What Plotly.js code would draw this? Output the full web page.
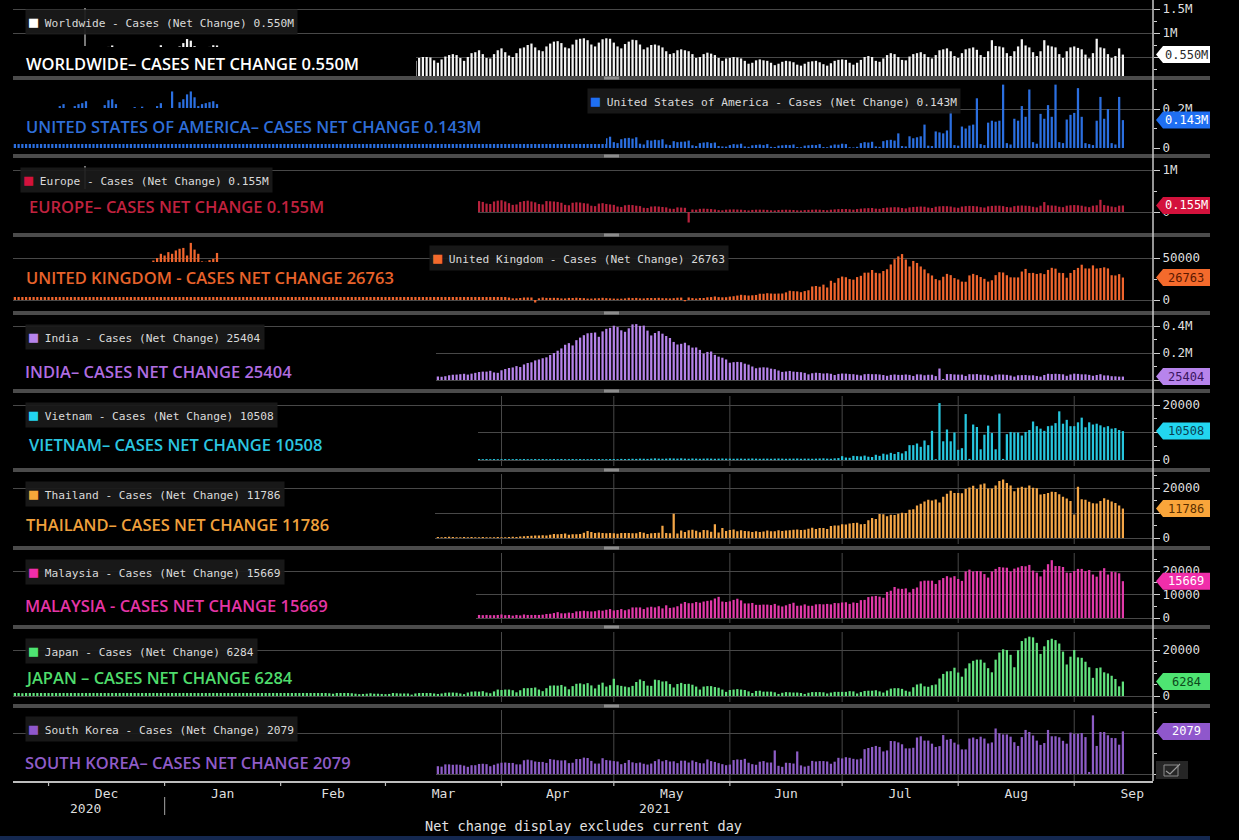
<!DOCTYPE html>
<html>
<head>
<meta charset="utf-8">
<script src="https://cdn.plot.ly/plotly-3.0.1.min.js"></script>
<style>
  html, body { margin: 0; padding: 0; background: #000; }
  #chart { width: 1239px; height: 840px; }
</style>
</head>
<body>
<div id="chart"></div>
<script>
// Daily new COVID-19 cases (net change), in thousands of cases.

const worldwideStart = '2020-11-21';
const worldwide = [
  580,500,480,560,620,590,650,560,480,500,
  620,640,680,690,640,560,530,620,680,700,705,640,560,590,660,700,710,740,640,560,600,660,690,700,520,440,480,600,680,700,745,
  600,620,560,640,720,790,875,840,725,600,620,690,710,745,740,650,560,500,560,620,650,640,560,480,490,560,600,580,560,500,420,
  440,460,470,450,420,360,330,380,420,430,410,380,320,300,330,380,400,390,370,320,300,340,390,420,410,400,360,330,
  340,390,430,450,440,400,370,360,420,
  480,500,500,490,430,380,450,510,
  540,560,540,480,420,500,580,600,
  640,560,480,470,560,640,680,
  600,530,500,580,680,700,750,780,700,
  640,620,720,780,820,830,790,700,680,760,
  860,880,890,850,760,720,800,870,890,880,
  800,720,680,770,820,860,850,760,660,700,
  750,760,740,700,620,560,580,640,660,640,
  620,560,480,500,560,590,570,540,480,420,470,
  480,500,490,470,420,360,380,430,450,430,
  420,380,330,360,400,420,410,390,340,320,
  360,400,410,420,390,350,320,370,420,440,
  450,440,380,340,380,440,500,520,500,420,
  400,470,540,580,560,500,440,430,510,560,
  580,600,560,500,470,540,640,660,680,620,520,
  480,580,660,680,700,650,540,500,620,850,
  730,720,700,580,520,620,720,870,740,700,
  600,520,620,850,740,720,700,560,480,620,700,
  720,690,660,550,470,580,880,700,680,560,480,520,680,550
];

const usaStart = '2020-11-21';
const usa = [
  180,140,150,175,185,110,205,150,140,160,
  180,195,200,215,225,180,190,215,225,230,240,190,185,195,200,220,245,250,225,180,190,195,200,210,100,212,150,170,195,215,230,
  160,200,290,180,235,250,275,290,260,215,225,230,235,240,225,205,170,145,170,180,190,185,170,130,150,145,150,160,165,140,110,
  120,115,120,125,130,95,85,100,95,100,100,95,80,60,55,60,65,70,75,60,55,65,70,75,80,75,60,50,
  55,60,65,65,60,50,40,50,55,60,65,60,50,45,50,55,60,65,60,45,40,55,60,65,70,65,45,35,65,70,70,
  75,65,50,40,65,70,75,80,80,60,45,70,75,80,75,70,45,40,70,65,60,60,55,40,30,55,60,55,50,
  58,
  30,25,45,50,52,48,55,22,18,40,38,42,40,45,18,15,35,30,32,33,38,14,10,25,28,30,25,28,10,8,7,
  15,20,18,22,8,6,14,16,18,15,20,6,5,12,14,16,15,18,5,4,12,14,16,15,20,5,4,13,18,17,
  22,20,4,3,6,25,30,28,32,8,6,35,40,42,38,75,10,8,60,50,55,60,120,12,10,85,80,75,90,190,15,
  12,110,100,115,120,255,20,15,130,140,135,140,325,25,18,150,140,215,160,300,30,22,175,150,220,160,325,30,25,146,170,
  180,307,160,25,20,15,140,262,150,200,25,18,262,143
];

const europeStart = '2021-03-26';
const europe = [
  260,240,200,190,250,270,
  280,250,210,170,180,240,260,270,250,230,190,180,260,255,250,240,220,170,160,220,230,225,210,200,150,140,200,210,190,180,
  170,130,120,160,170,165,150,140,100,95,130,135,130,120,110,80,75,110,105,100,-250,60,55,75,80,75,70,60,45,40,55,
  60,62,58,55,45,38,50,55,56,54,50,40,36,48,52,54,52,48,40,36,45,50,55,58,55,48,42,55,62,68,
  70,72,65,55,70,80,88,92,95,80,75,95,105,110,115,112,95,85,110,120,125,130,125,105,95,125,135,140,138,130,110,
  100,130,140,145,142,135,115,105,135,145,150,150,140,120,110,140,150,155,150,145,125,110,150,236,160,155,150,125,115,150,160,
  165,160,150,130,115,150,160,290,165,150,130,115,150,155
];

const ukStart = '2020-11-21';
const uk = [
  19,18,15,11,18,17,16,15,12,12,
  16,14,16,17,15,13,14,16,16,20,21,21,18,20,18,25,35,28,27,35,33,36,39,32,30,41,30,41,47,50,55,
  53,57,55,59,61,62,53,68,60,55,46,45.5,47.5,49,56,41,38,37,33,38,37,40,33,30,22,20,25,28,29,23,21,
  19,16,19,21,19,18,15,14,12,13,13,15,13,10,9,10,12,12,12,10,9,10,8,9,9,8,7,6,
  5,5,6,7,6,5,5,5,6,6,6,5,6,4,5,5,6,4,5,5,6,5,5,5,6,4,4,4,4,4,4,
  4,4,3,2,2,2.4,3,
  3,3,-3,2,3,2.5,2.5,2.6,2.5,1.9,1.9,2.5,2.4,2.7,2.4,2.2,1.7,1.7,2,2.1,2.6,2.2,2,
  1.7,1.6,1.6,1.9,2.6,2.3,2.5,2,1.9,2.4,2.4,2.3,2.6,2.2,2.1,1.9,2.2,2.7,2.9,-1.5,3,2.3,1.8,2.4,2.4,3.2,3.5,4.2,3.4,3.2,3.3,
  4,4.5,5.3,6.2,5.7,5.3,5.6,6,7.5,7.4,8.1,7.7,7.5,7.7,7.7,9.1,11,10.5,10.3,9.3,10.6,11.6,16.1,16.7,15.8,18.3,14.9,22.9,20.5,26,
  27.9,27.1,24.9,24.2,27.3,28.8,32.5,32.6,35.7,32.4,31.8,34.5,36.6,42.3,48.5,51.9,54.7,48.2,39.9,46.5,44.1,39.9,36.4,31.8,29.2,24.9,23.5,27.7,31.1,29.6,26.1,
  24.4,21.9,21.7,29.3,31.1,29.6,27.4,25.2,21.9,23.5,29.6,33.1,32.7,29.5,27,26.9,26.9,33.9,37,32.1,32.3,31,31.9,30.8,35.8,38.3,37.3,32.4,32.1,26.5,32.2,
  35.7,38.2,42,37.6,37.5,41.2,37.5,38,38.9,37.6,29.5,29.2,30.8,26.763
];

const indiaStart = '2021-03-15';
const india = [
  26,24,28,35,39,40,43,46,40,47,53,59,62,62,68,56,53,
  72,81,89,93,103,96,115,126,131,145,152,161,168,185,200,217,234,261,273,256,295,314,332,346,349,352,320,360,379,386,
  402,392,368,357,383,412,414,401,403,366,330,348,362,343,326,311,282,263,268,276,257,240,241,223,196,208,211,186,173,165,152,
  128,132,134,132,121,114,100,87,92,94,92,84,80,70,60,63,67,62,60,58,53,42,50,54,52,48,50,46,37,45,
  48,47,44,43,39,34,43,45,43,43,41,37,31,38,41,38,38,41,38,30,42,41,35,39,39,29,85,8,44,44,41,
  40,40,30,43,42,44,39,39,35,28,39,41,40,38,33,25,35,36,37,34,35,30,25,37,46,44,46,44,42,31,41,
  47,45,42,42,38,31,37,43,34,34,28,27,25,25.404
];

const vietnamStart = '2021-03-26';
const vietnam = [
  0.35,0.3,0.35,0.3,0.35,0.3,
  0.3,0.35,0.3,0.3,0.35,0.3,0.35,0.3,0.3,0.35,0.3,0.35,0.3,0.3,0.35,0.3,0.35,0.3,0.3,0.35,0.3,0.35,0.3,0.3,0.35,0.3,0.35,0.3,0.3,0.35,
  0.35,0.3,0.4,0.35,0.4,0.45,0.4,0.5,0.45,0.4,0.5,0.6,0.5,0.45,0.5,0.6,0.55,0.5,0.6,0.5,0.45,0.55,0.5,0.45,0.5,0.55,0.5,0.45,0.5,0.55,0.5,
  0.5,0.45,0.5,0.5,0.45,0.5,0.55,0.5,0.45,0.5,0.5,0.45,0.5,0.55,0.5,0.45,0.5,0.5,0.55,0.45,0.5,0.5,0.45,0.5,0.55,0.6,0.5,0.45,0.6,0.7,
  1.4,0.9,0.8,1.5,1.4,1.3,1.6,1.2,1.1,1.9,1.5,2.3,2.0,2.6,2.2,2.9,2.4,3.2,5.4,
  5.4,6.0,4.8,7.1,5.4,10.6,0.3,20.7,6.8,11.1,6.8,10.0,3.7,4.3,16.7,0.4,12.9,12.0,3.9,9.2,12.5,9.8,3.9,16.9,0.4,9.4,10.2,10.0,10.0,8.9,
  10.2,10.9,14.0,12.3,11.4,10.6,12.3,12.5,13.4,17.7,13.2,14.6,12.3,12.3,13.7,15.4,11.9,13.7,12.9,13.2,12.6,11.9,12.3,11.4,11.6,10.9,10.508
];

const thailandStart = '2021-03-15';
const thailand = [
  0.4,0.3,0.4,0.5,0.4,0.3,0.3,0.4,0.3,0.4,0.3,0.3,0.4,0.3,0.3,0.3,0.4,
  0.3,0.3,0.4,0.5,0.4,0.6,0.7,0.8,0.9,1.0,1.0,1.1,1.0,1.3,1.6,1.5,1.6,1.8,1.3,1.5,1.5,1.6,2.1,2.8,2.4,2.0,2.2,2.0,1.9,2.0,
  1.9,1.7,2.0,2.0,2.0,1.9,1.9,2.4,2.1,1.6,1.9,2.0,2.1,4.9,2.0,1.9,9.7,1.8,3.0,2.4,3.1,3.3,2.9,2.3,3.2,3.1,2.5,5.5,2.2,4.0,2.8,
  3.2,3.4,2.7,3.1,2.8,2.7,2.4,2.7,2.4,2.6,3.0,2.7,2.7,3.1,2.8,3.0,3.1,3.3,3.4,3.2,3.3,3.7,4.1,3.6,4.0,4.0,3.6,4.8,5.0,5.0,
  5.5,5.4,5.8,6.0,6.1,5.5,5.6,7.1,8.0,7.6,9.6,9.5,8.7,9.3,9.2,9.7,10.1,10.0,11.3,11.5,13.0,13.7,14.6,15.3,15.0,15.4,14.2,16.5,17.7,18.9,18.0,
  18.0,17.9,19.6,20.2,20.9,19.6,21.4,21.8,19.8,19.8,21.0,22.8,23.4,22.0,21.0,18.7,20.1,20.5,20.1,21.0,20.1,19.9,17.4,17.6,18.0,18.5,18.4,17.5,16.5,15.8,14.8,
  9.4,20.5,15.5,15.3,14.5,13.9,13.8,14.8,15.9,15.3,14.6,14.0,13.0,11.786
];

const malaysiaStart = '2021-03-26';
const malaysia = [
  1.3,1.2,1.3,1.2,1.2,1.3,
  1.5,1.2,1.3,1.0,1.3,1.1,1.5,1.3,1.3,1.3,1.3,1.4,1.7,1.8,2.1,2.5,2.0,2.0,2.3,2.1,2.8,2.9,3.1,2.9,2.8,2.9,3.3,3.1,3.5,3.8,
  3.2,3.4,3.8,3.3,3.7,4.5,4.5,4.5,3.8,4.5,4.8,4.5,5.0,4.1,5.4,4.3,4.5,5.0,6.1,6.8,6.3,6.3,6.8,6.5,7.0,7.3,7.5,8.3,9.0,7.0,6.8,
  7.1,7.7,8.2,7.5,6.2,6.2,6.4,5.6,5.6,5.7,5.7,5.5,6.0,5.3,4.9,5.4,6.0,6.5,5.2,5.3,5.8,5.2,5.2,5.8,5.9,5.8,6.0,5.8,6.4,6.3,
  6.6,6.7,6.0,6.6,6.4,7.6,7.7,8.9,9.2,9.4,9.1,8.6,11.1,11.6,13.2,12.5,12.4,12.6,10.9,12.4,13.0,15.6,15.9,15.9,15.9,14.5,16.1,17.0,17.8,17.2,17.8,
  16.6,15.8,19.8,20.6,19.8,20.0,19.9,18.7,17.2,19.8,20.9,21.7,21.5,21.4,19.8,21.0,21.5,22.1,22.0,22.6,20.2,19.3,17.7,20.6,22.9,24.6,22.1,22.1,21.7,19.3,19.2,
  20.0,20.9,20.9,20.0,20.4,18.5,17.6,20.1,21.2,18.5,19.7,19.5,19.0,15.669
];

const japanStart = '2020-11-21';
const japan = [
  2.4,2.2,1.5,1.2,1.9,2.5,2.5,2.7,2.1,1.4,
  2.0,2.4,2.5,2.4,2.5,2.0,1.7,2.1,2.8,2.8,2.8,3.0,2.0,1.7,2.4,3.2,3.2,2.8,2.9,2.4,1.8,2.9,3.3,3.7,3.8,3.9,2.9,2.4,3.6,3.9,4.5,
  3.2,3.0,3.1,3.3,4.9,6.0,7.6,7.9,7.8,6.1,4.9,4.5,5.9,6.6,7.1,6.2,5.8,4.9,5.3,5.5,5.4,5.0,4.7,3.9,2.8,3.9,3.9,3.5,3.5,3.3,2.7,
  2.1,1.8,2.6,2.5,2.4,2.3,1.9,1.6,1.7,1.9,1.6,1.4,1.4,1.2,1.0,1.5,1.5,1.4,1.3,1.2,1.0,0.8,0.9,1.0,1.2,1.0,1.0,0.9,
  0.8,0.9,1.3,1.2,1.1,1.1,1.1,0.6,1.1,1.3,1.3,1.3,1.3,1.1,
  0.9,1.1,1.4,1.5,1.5,1.4,1.1,0.8,1.5,1.9,2.0,1.9,2.1,1.5,1.2,2.0,2.8,
  2.6,2.8,2.8,2.5,1.6,2.5,3.4,3.4,3.5,3.7,2.8,2.1,3.4,4.5,4.6,4.5,4.8,4.1,2.9,4.3,5.3,5.5,5.1,5.6,4.6,3.3,4.9,5.8,4.1,4.7,
  7.5,4.7,4.4,4.1,3.8,4.4,6.1,7.2,6.5,4.5,4.4,7.1,6.9,6.3,6.4,5.2,3.7,5.2,5.7,5.2,5.3,4.9,4.1,2.8,4.1,4.3,4.3,3.9,3.6,2.8,1.8,
  2.6,2.8,3.0,2.8,2.6,2.0,1.3,2.2,2.3,1.9,1.9,1.9,1.6,0.9,1.4,1.7,1.6,1.5,1.5,1.3,0.9,1.4,1.7,1.7,1.7,1.6,1.1,1.5,1.8,1.8,
  1.8,1.8,2.1,2.0,1.1,1.7,2.2,2.3,2.3,2.5,2.0,1.5,2.4,3.2,3.4,3.4,3.1,2.3,1.9,3.8,5.0,5.4,4.2,4.0,4.7,5.0,7.6,9.6,10.7,10.8,12.3,
  10.2,8.4,12.0,14.2,15.3,15.8,15.8,14.5,12.1,10.3,15.8,18.9,20.3,20.0,17.9,12.5,19.9,23.9,25.1,25.8,25.5,23.1,18.3,21.6,24.3,24.9,24.3,22.8,19.3,13.7,17.1,
  20.0,16.8,16.6,14.9,12.5,7.9,12.1,12.4,10.3,9.8,8.8,7.4,4.2,6.284
];

const southKoreaStart = '2021-03-15';
const southKorea = [
  0.38,0.36,0.47,0.47,0.45,0.46,0.45,0.41,0.35,0.43,0.43,0.49,0.50,0.48,0.38,0.45,0.51,
  0.55,0.56,0.54,0.54,0.47,0.47,0.67,0.70,0.67,0.61,0.59,0.59,0.54,0.73,0.70,0.67,0.66,0.67,0.53,0.55,0.73,0.73,0.80,0.78,0.64,0.51,0.51,0.77,0.68,0.66,
  0.63,0.61,0.48,0.54,0.68,0.57,0.53,0.56,0.50,0.46,0.51,0.63,0.72,0.62,0.68,0.61,0.62,0.53,0.65,0.65,0.56,0.66,0.59,0.53,0.52,0.71,0.63,0.59,0.53,0.48,0.43,
  0.46,0.68,0.71,0.69,0.74,0.55,0.48,0.45,0.60,0.63,0.56,0.56,1.15,0.40,0.35,0.55,0.54,0.51,1.10,0.42,0.36,0.40,0.64,0.61,0.63,0.63,0.61,0.50,0.60,0.79,
  0.76,0.82,0.79,0.74,0.71,0.75,1.21,1.27,1.32,1.37,1.32,1.10,1.15,1.61,1.60,1.54,1.45,1.25,1.25,1.28,1.78,1.84,1.63,1.63,1.48,1.32,1.36,1.90,1.67,1.71,1.53,
  1.44,1.20,1.20,1.73,1.78,1.70,1.82,1.73,1.49,1.54,2.22,1.99,1.93,1.93,1.82,1.55,1.37,1.80,2.15,2.05,1.88,1.63,1.42,1.51,2.15,1.84,1.84,1.79,1.62,1.48,2.02,
  1.96,1.96,2.00,1.80,0.10,2.86,1.37,2.05,2.05,1.89,1.76,1.75,1.43,2.079
];

// Value-axis ticks per panel (thousands) and their labels;
// an empty label keeps the gridline where the last-value tag sits on the axis.
const worldwideTicks = [500, 1000, 1500];   const worldwideTickText = ['', '1M', '1.5M'];
const usaTicks = [0, 200];                   const usaTickText = ['0', '0.2M'];
const europeTicks = [0, 1000];               const europeTickText = ['0', '1M'];
const ukTicks = [0, 50];                     const ukTickText = ['0', '50000'];
const indiaTicks = [0, 200, 400];            const indiaTickText = ['', '0.2M', '0.4M'];
const vietnamTicks = [0, 10, 20];            const vietnamTickText = ['0', '', '20000'];
const thailandTicks = [0, 10, 20];           const thailandTickText = ['0', '', '20000'];
const malaysiaTicks = [0, 10, 20];           const malaysiaTickText = ['0', '10000', '20000'];
const japanTicks = [0, 20];                  const japanTickText = ['0', '20000'];
const koreaTicks = [0, 2];                   const koreaTickText = ['0', ''];

// Month boundaries on the time axis
const monthStarts = ['2020-12-01', '2021-01-01', '2021-02-01', '2021-03-01', '2021-04-01', '2021-05-01',
                     '2021-06-01', '2021-07-01', '2021-08-01', '2021-09-01'];

// ---------------------------------------------------------------------------
// Page geometry (pixels)
const PLOT_L = 13, PLOT_R = 1153, PLOT_B = 781;
const px2x = px => (px - PLOT_L) / (PLOT_R - PLOT_L);
const px2y = py => (PLOT_B - py) / PLOT_B;

const fmtM = v => (v / 1000).toFixed(3) + 'M';
const fmtN = v => String(Math.round(v * 1000));

function dayList(start, n) {
  const t0 = Date.parse(start + 'T00:00:00Z');
  const out = [];
  for (let i = 0; i < n; i++) out.push(new Date(t0 + i * 86400000).toISOString().slice(0, 10));
  return out;
}

// Panel layout table: band in pixels, zero line, pixels per thousand, colours
const panels = [
  { name: 'Worldwide', title: 'WORLDWIDE\u2013 CASES NET CHANGE ', data: worldwide, start: worldwideStart, fmt: fmtM,
    bar: '#f4f4f4', text: '#ffffff', tagBg: '#ffffff', tagFg: '#2a2a2a', sq: '#ffffff',
    top: 3, bottom: 76, zero: 81, ppu: 0.048, ticks: worldwideTicks, tickText: worldwideTickText, minor: 250,
    titlePos: [24, 63], legendPos: [25, 22], mask: [13, 416, 47, 76], vgrid: false },
  { name: 'United States of America', title: 'UNITED STATES OF AMERICA\u2013 CASES NET CHANGE ', data: usa, start: usaStart, fmt: fmtM,
    bar: '#2b6fe0', text: '#2f6ed8', tagBg: '#1f6ff2', tagFg: '#ffffff', sq: '#1f6ff2',
    top: 84, bottom: 148, zero: 148, ppu: 0.195, ticks: usaTicks, tickText: usaTickText, minor: 100,
    titlePos: [24, 127], legendPos: [587, 101], mask: [13, 606, 108, 144], vgrid: false },
  { name: 'Europe', title: 'EUROPE\u2013 CASES NET CHANGE ', data: europe, start: europeStart, fmt: fmtM,
    bar: '#b8223d', text: '#c0223f', tagBg: '#d3123c', tagFg: '#ffffff', sq: '#d3123c',
    top: 160, bottom: 230, zero: 212, ppu: 0.042, ticks: europeTicks, tickText: europeTickText, minor: 500,
    titlePos: [27, 206], legendPos: [20, 180], mask: [13, 478, 175, 233], vgrid: false },
  { name: 'United Kingdom', title: 'UNITED KINGDOM - CASES NET CHANGE ', data: uk, start: ukStart, fmt: fmtN,
    bar: '#f0652d', text: '#e8632b', tagBg: '#f46a2c', tagFg: '#5a1800', sq: '#f46a2c',
    top: 239, bottom: 309, zero: 300, ppu: 0.84, ticks: ukTicks, tickText: ukTickText, minor: 25,
    titlePos: [24, 278], legendPos: [429, 258], mask: [13, 530, 262, 297], vgrid: false },
  { name: 'India', title: 'INDIA\u2013 CASES NET CHANGE ', data: india, start: indiaStart, fmt: fmtN,
    bar: '#b683ea', text: '#b06de0', tagBg: '#b784ec', tagFg: '#3a1560', sq: '#b784ec',
    top: 318, bottom: 387, zero: 380, ppu: 0.135, ticks: indiaTicks, tickText: indiaTickText, minor: 100,
    titlePos: [23, 371], legendPos: [25, 337], mask: [13, 436, 349, 388], vgrid: false },
  { name: 'Vietnam', title: 'VIETNAM\u2013 CASES NET CHANGE ', data: vietnam, start: vietnamStart, fmt: fmtN,
    bar: '#27c6de', text: '#2bc6e0', tagBg: '#22d6f0', tagFg: '#0b3f52', sq: '#22d6f0',
    top: 396, bottom: 466, zero: 460, ppu: 2.75, ticks: vietnamTicks, tickText: vietnamTickText, minor: 5,
    titlePos: [27, 444], legendPos: [25, 415], mask: [13, 478, 418, 467], vgrid: true },
  { name: 'Thailand', title: 'THAILAND\u2013 CASES NET CHANGE ', data: thailand, start: thailandStart, fmt: fmtN,
    bar: '#f4a647', text: '#f0a03c', tagBg: '#f9a53a', tagFg: '#5a2f00', sq: '#f9a53a',
    top: 474, bottom: 544, zero: 538, ppu: 2.5, ticks: thailandTicks, tickText: thailandTickText, minor: 5,
    titlePos: [24, 524], legendPos: [25, 494], mask: [13, 435, 500, 545], vgrid: true },
  { name: 'Malaysia', title: 'MALAYSIA - CASES NET CHANGE ', data: malaysia, start: malaysiaStart, fmt: fmtN,
    bar: '#e23aa9', text: '#e535a6', tagBg: '#f02eaa', tagFg: '#ffffff', sq: '#f02eaa',
    top: 553, bottom: 623, zero: 618, ppu: 2.35, ticks: malaysiaTicks, tickText: malaysiaTickText, minor: 5,
    titlePos: [23, 605], legendPos: [25, 572], mask: [13, 476, 582, 624], vgrid: true },
  { name: 'Japan', title: 'JAPAN \u2013 CASES NET CHANGE ', data: japan, start: japanStart, fmt: fmtN,
    bar: '#62e37e', text: '#4fdc6c', tagBg: '#4ee472', tagFg: '#0d4a1c', sq: '#4ee472',
    top: 632, bottom: 702, zero: 696, ppu: 2.3, ticks: japanTicks, tickText: japanTickText, minor: 5,
    titlePos: [23, 677], legendPos: [25, 651], mask: [13, 437, 658, 693], vgrid: true },
  { name: 'South Korea', title: 'SOUTH KOREA\u2013 CASES NET CHANGE ', data: southKorea, start: southKoreaStart, fmt: fmtN,
    bar: '#8d5cc6', text: '#8f5cc8', tagBg: '#8f57cc', tagFg: '#ffffff', sq: '#8f57cc',
    top: 710, bottom: 781, zero: 774, ppu: 20.5, ticks: koreaTicks, tickText: koreaTickText, minor: 1,
    titlePos: [23, 762], legendPos: [25, 729], mask: [13, 436, 740, 779], vgrid: true }
];

const MONO = 'DejaVu Sans Mono, monospace';
const traces = [];
const shapes = [];
const annotations = [];
const layout = {
  width: 1239, height: 840,
  paper_bgcolor: '#000', plot_bgcolor: '#000',
  margin: { l: PLOT_L, r: 1239 - PLOT_R, t: 0, b: 840 - PLOT_B, pad: 0 },
  showlegend: false,
  bargap: 0.4,
  hovermode: false,
  xaxis: {
    type: 'date', range: ['2020-11-21 12:00', '2021-09-22 01:00'],
    anchor: 'free', position: 0,
    showgrid: false, zeroline: false,
    showline: true, linecolor: '#bdbdbd', linewidth: 1.5,
    ticks: '',
    dtick: 'M1', tick0: '2020-12-01', tickformat: '%b', ticklabelmode: 'period',
    tickfont: { family: MONO, size: 13, color: '#dedede' },
    fixedrange: true
  }
};

panels.forEach((p, i) => {
  const axId = i === 0 ? 'y' : 'y' + (i + 1);
  const axKey = i === 0 ? 'yaxis' : 'yaxis' + (i + 1);
  const last = p.data[p.data.length - 1];
  const label = p.fmt(last);

  traces.push({
    type: 'bar', x: dayList(p.start, p.data.length), y: p.data,
    xaxis: 'x', yaxis: axId,
    marker: { color: p.bar, line: { width: 0 } },
    hoverinfo: 'skip'
  });

  layout[axKey] = {
    domain: [px2y(p.bottom), px2y(p.top)],
    range: [(p.zero - p.bottom) / p.ppu, (p.zero - p.top) / p.ppu],
    side: 'right', anchor: 'x',
    tickmode: 'array', tickvals: p.ticks, ticktext: p.tickText,
    ticks: 'outside', ticklen: 6, tickcolor: '#d0d0d0',
    minor: { dtick: p.minor, ticks: 'outside', ticklen: 3, tickcolor: '#d0d0d0', showgrid: false },
    showgrid: true, gridcolor: '#484848', gridwidth: 1,
    zeroline: false, showline: false,
    tickfont: { family: MONO, size: 12.5, color: '#dedede' },
    fixedrange: true
  };

  // month gridlines in the lower panels
  if (p.vgrid) {
    monthStarts.slice(4).forEach(d => shapes.push({
      type: 'line', layer: 'below', xref: 'x', yref: axId + ' domain',
      x0: d, x1: d, y0: 0, y1: 1, line: { color: '#484848', width: 1 }
    }));
  }

  // black panel covering the left-hand part of the band
  const m = p.mask;
  shapes.push({
    type: 'rect', layer: 'above', xref: 'paper', yref: 'paper',
    x0: px2x(m[0]), x1: px2x(m[1]), y0: px2y(m[3]), y1: px2y(m[2]),
    fillcolor: '#000', line: { width: 0 }
  });

  // big caption
  annotations.push({
    xref: 'paper', yref: 'paper', x: px2x(p.titlePos[0]), y: px2y(p.titlePos[1]),
    xanchor: 'left', yanchor: 'middle', showarrow: false,
    text: p.title + label,
    font: { family: 'Open Sans, sans-serif', size: 16.5, color: p.text, weight: 600 }
  });

  // series legend box
  annotations.push({
    xref: 'paper', yref: 'paper', x: px2x(p.legendPos[0]), y: px2y(p.legendPos[1]),
    xanchor: 'left', yanchor: 'middle', showarrow: false,
    text: '<span style="color:' + p.sq + ';font-size:15px">\u25A0</span> ' + p.name + ' - Cases (Net Change) ' + label,
    font: { family: MONO, size: 11.2, color: '#dadada' },
    bgcolor: 'rgba(26,26,26,0.92)', borderpad: 3
  });

  // last-value tag on the value axis
  shapes.push({
    type: 'path', layer: 'above', xref: 'paper', yref: axId,
    xsizemode: 'pixel', ysizemode: 'pixel', xanchor: 1, yanchor: last,
    path: 'M 3,0 L 10,8.5 L 57,8.5 L 57,-8.5 L 10,-8.5 Z',
    fillcolor: p.tagBg, line: { width: 0 }
  });
  annotations.push({
    xref: 'paper', yref: axId, x: 1, y: last, xshift: 33,
    xanchor: 'center', yanchor: 'middle', showarrow: false,
    text: label, font: { family: MONO, size: 12, color: p.tagFg }
  });
});

// tick marks at the month boundaries under the time axis
monthStarts.forEach(d => shapes.push({
  type: 'line', xref: 'x', yref: 'paper', x0: d, x1: d,
  y0: px2y(786), y1: px2y(781), line: { color: '#bdbdbd', width: 1.2 }
}));

// panel separators with their small handles
const separators = [78, 156, 235, 313, 391, 470, 548, 627, 706];
separators.forEach(y => {
  shapes.push({ type: 'rect', layer: 'above', xref: 'paper', yref: 'paper',
    x0: px2x(13), x1: px2x(1210), y0: px2y(y + 2), y1: px2y(y - 2),
    fillcolor: '#4b4b4b', line: { width: 0 } });
  shapes.push({ type: 'rect', layer: 'above', xref: 'paper', yref: 'paper',
    x0: px2x(604), x1: px2x(619), y0: px2y(y + 1.5), y1: px2y(y - 1.5),
    fillcolor: '#8c8c8c', line: { width: 0 } });
});

// value-axis spine
shapes.push({ type: 'line', layer: 'above', xref: 'paper', yref: 'paper',
  x0: 1, x1: 1, y0: 0, y1: 1, line: { color: '#c8c8c8', width: 1.5 } });

// crosshair remnants
shapes.push({ type: 'line', layer: 'above', xref: 'paper', yref: 'paper',
  x0: px2x(85), x1: px2x(85), y0: px2y(46), y1: px2y(8), line: { color: '#a0a0a0', width: 1.5 } });
shapes.push({ type: 'line', layer: 'above', xref: 'paper', yref: 'paper',
  x0: px2x(85), x1: px2x(85), y0: px2y(189), y1: px2y(166), line: { color: '#a0a0a0', width: 1.5 } });

// year divider under the axis
shapes.push({ type: 'line', xref: 'x', yref: 'paper', x0: '2021-01-01', x1: '2021-01-01',
  y0: px2y(815), y1: px2y(797), line: { color: '#8a8a8a', width: 1.2 } });

// small chart icon at the foot of the value axis
shapes.push({ type: 'rect', layer: 'above', xref: 'paper', yref: 'paper',
  x0: px2x(1156), x1: px2x(1188), y0: px2y(779), y1: px2y(761),
  fillcolor: '#262626', line: { width: 0 } });
shapes.push({ type: 'rect', layer: 'above', xref: 'paper', yref: 'paper',
  x0: px2x(1164), x1: px2x(1178), y0: px2y(776), y1: px2y(765),
  fillcolor: 'rgba(0,0,0,0)', line: { color: '#8a8a8a', width: 1 } });
shapes.push({ type: 'path', layer: 'above', xref: 'paper', yref: 'paper',
  path: 'M ' + px2x(1166) + ',' + px2y(771) + ' L ' + px2x(1170) + ',' + px2y(774) +
        ' L ' + px2x(1180) + ',' + px2y(764),
  line: { color: '#9a9a9a', width: 1.2 } });

// thin navy rule along the very bottom
shapes.push({ type: 'rect', layer: 'above', xref: 'paper', yref: 'paper',
  x0: px2x(0), x1: px2x(1210), y0: px2y(840), y1: px2y(836),
  fillcolor: '#142850', line: { width: 0 } });

// year labels and footer note
annotations.push({ xref: 'x', yref: 'paper', x: '2020-12-11', y: px2y(808), showarrow: false,
  xanchor: 'center', yanchor: 'middle', text: '2020', font: { family: MONO, size: 13, color: '#dedede' } });
annotations.push({ xref: 'x', yref: 'paper', x: '2021-05-12', y: px2y(808), showarrow: false,
  xanchor: 'center', yanchor: 'middle', text: '2021', font: { family: MONO, size: 13, color: '#dedede' } });
annotations.push({ xref: 'paper', yref: 'paper', x: px2x(583), y: px2y(826), showarrow: false,
  xanchor: 'center', yanchor: 'middle', text: 'Net change display excludes current day',
  font: { family: MONO, size: 13.5, color: '#e2e2e2' } });

layout.shapes = shapes;
layout.annotations = annotations;

Plotly.newPlot('chart', traces, layout, { staticPlot: true, displayModeBar: false });
</script>
</body>
</html>
